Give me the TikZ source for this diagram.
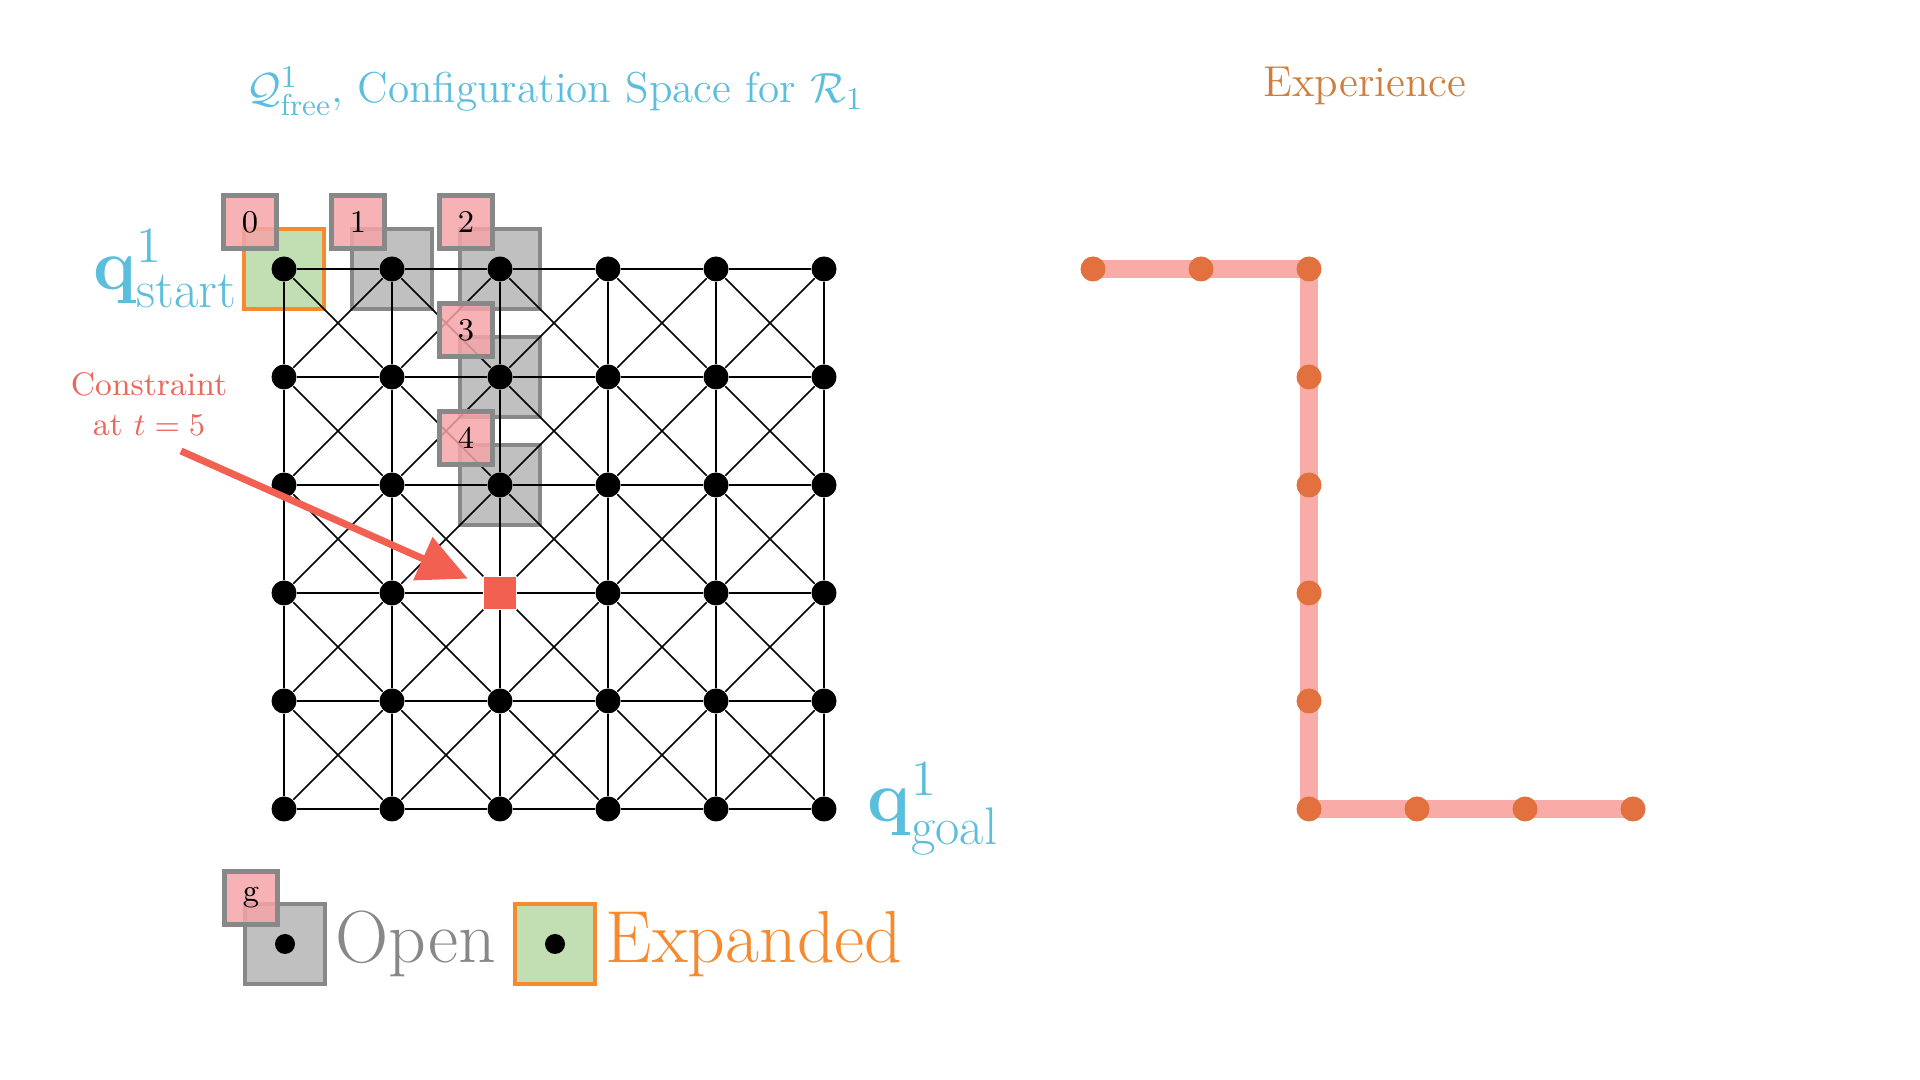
\documentclass[tikz,border=0pt]{standalone}
\usepackage{amsmath, amssymb, amsfonts}
\usepackage{tikz}
\usetikzlibrary{shapes,arrows.meta,positioning,calc}

\definecolor{qcyan}{RGB}{91,190,220}
\definecolor{boxgray}{RGB}{136,136,136}
\definecolor{openfill}{RGB}{192,192,192}
\definecolor{expgreen}{RGB}{194,223,180}
\definecolor{exporange}{RGB}{245,138,47}
\definecolor{tagpink}{RGB}{244,164,167}
\definecolor{conred}{RGB}{242,96,82}
\definecolor{contxt}{RGB}{236,104,92}
\definecolor{exptxt}{RGB}{206,127,62}
\definecolor{exppink}{RGB}{249,172,167}
\definecolor{expdotc}{RGB}{227,112,63}

\begin{document}
\begin{tikzpicture}[
    dot/.style={circle, fill=black, inner sep=0pt, minimum size=0.25cm},
    conSq/.style={rectangle, fill=conred, inner sep=0pt, minimum size=0.32cm},
    openbox/.style={rectangle, draw=boxgray, line width=1.2pt, fill=openfill, inner sep=0pt, minimum size=0.8cm},
    expbox/.style={rectangle, draw=exporange, line width=1.2pt, fill=expgreen, inner sep=0pt, minimum size=0.8cm},
    tagbox/.style={rectangle, draw=boxgray, line width=1.2pt, fill=tagpink, fill opacity=0.85, text opacity=1, inner sep=0pt, minimum size=0.53cm, font=\small},
    gridline/.style={line width=0.45pt},
    conarrow/.style={draw=conred, line width=2pt, -{Triangle[length=14pt,width=13pt]}, shorten >=0.17cm},
    exppath/.style={draw=exppink, line width=5pt},
    expdot/.style={circle, fill=expdotc, inner sep=0pt, minimum size=0.25cm},
    bigq/.style={text=qcyan, font=\fontsize{21.5}{26}\selectfont, inner sep=0pt},
    legtxt/.style={font=\fontsize{21}{25}\selectfont, inner sep=0pt}
]
    \useasboundingbox (0,0) rectangle (19.2,10.8);

    \node[text=qcyan, font=\fontsize{12.3}{15}\selectfont, anchor=base] (title) at (5.55,9.77) {$\mathcal{Q}^1_{\text{free}}$, Configuration Space for $\mathcal{R}_1$};
    \node[text=exptxt, font=\fontsize{12.3}{15}\selectfont, anchor=base] (exptitle) at (13.65,9.83) {Experience};

    \node[expbox] (xb-0-0) at (2.84,8.11) {};
    \node[openbox] (ob-1-0) at (3.92,8.11) {};
    \node[openbox] (ob-2-0) at (5.00,8.11) {};
    \node[openbox] (ob-2-1) at (5.00,7.03) {};
    \node[openbox] (ob-2-2) at (5.00,5.95) {};

    \foreach \i in {0,...,5}
        \foreach \j in {0,...,5} {
            \ifnum\i\j=23
                \node[conSq] (n-\i-\j) at ({2.84+1.08*\i},{8.11-1.08*\j}) {};
            \else
                \node[dot] (n-\i-\j) at ({2.84+1.08*\i},{8.11-1.08*\j}) {};
            \fi
        }

    \foreach \i/\ii in {0/1,1/2,2/3,3/4,4/5}
        \foreach \j in {0,...,5} {
            \draw[gridline] (n-\i-\j) -- (n-\ii-\j);
            \draw[gridline] (n-\j-\i) -- (n-\j-\ii);
        }
    \foreach \i/\ii in {0/1,1/2,2/3,3/4,4/5}
        \foreach \j/\jj in {0/1,1/2,2/3,3/4,4/5} {
            \draw[gridline] (n-\i-\j) -- (n-\ii-\jj);
            \draw[gridline] (n-\ii-\j) -- (n-\i-\jj);
        }

    \node[tagbox] (t0) at ([shift={(-0.34,0.47)}]xb-0-0) {0};
    \node[tagbox] (t1) at ([shift={(-0.34,0.47)}]ob-1-0) {1};
    \node[tagbox] (t2) at ([shift={(-0.34,0.47)}]ob-2-0) {2};
    \node[tagbox] (t3) at ([shift={(-0.34,0.47)}]ob-2-1) {3};
    \node[tagbox] (t4) at ([shift={(-0.34,0.47)}]ob-2-2) {4};

    \node[bigq, left=0.03cm of xb-0-0] (qstart) {$\mathbf{q}^{1}_{\text{start}}$};
    \node[bigq, right=0.3cm of n-5-5] (qgoal) {$\mathbf{q}^{1}_{\text{goal}}$};

    \node[text=contxt, font=\fontsize{9.3}{11.3}\selectfont, align=center, inner sep=0pt] (context) at (1.49,6.76) {Constraint\\at $t=5$};
    \coordinate (cstart) at (1.81,6.29);
    \draw[conarrow] (cstart) -- (n-2-3);

    \node[openbox] (legOpen) at (2.85,1.36) {};
    \node[dot, minimum size=0.2cm] (legDotA) at (legOpen) {};
    \node[tagbox] (tg) at ([shift={(-0.34,0.46)}]legOpen) {g};
    \node[legtxt, text=boxgray, right=0.08cm of legOpen] (openTxt) {Open};
    \node[expbox] (legExp) at (5.55,1.36) {};
    \node[dot, minimum size=0.2cm] (legDotB) at (legExp) {};
    \node[legtxt, text=exporange, right=0.08cm of legExp] (expTxt) {Expanded};

    \foreach \k/\x/\y in {0/10.93/8.11, 1/12.01/8.11, 2/13.09/8.11, 3/13.09/7.03, 4/13.09/5.95, 5/13.09/4.87,
                          6/13.09/3.79, 7/13.09/2.71, 8/14.17/2.71, 9/15.25/2.71, 10/16.33/2.71}
        \coordinate (e\k) at (\x,\y);
    \draw[exppath] (e0) -- (e1) -- (e2) -- (e3) -- (e4) -- (e5) -- (e6) -- (e7) -- (e8) -- (e9) -- (e10);
    \foreach \k in {0,...,10}
        \node[expdot] (ed\k) at (e\k) {};
\end{tikzpicture}
\end{document}
